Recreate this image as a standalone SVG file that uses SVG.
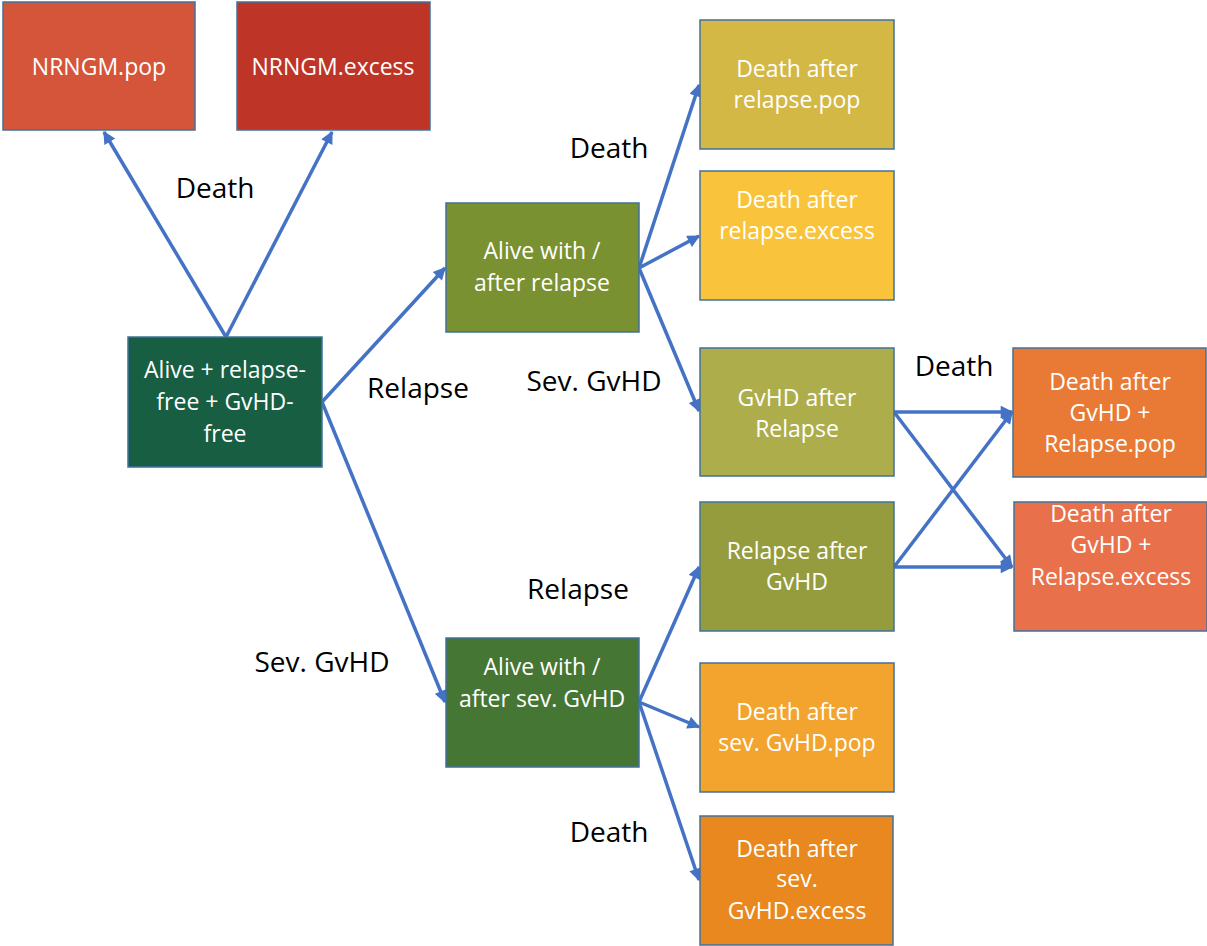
<svg xmlns="http://www.w3.org/2000/svg" width="1207" height="946" viewBox="0 0 1207 946">
<style>
.box{stroke:#41719C;stroke-width:1.5}
.bt{font-family:"Open Sans","Liberation Sans",sans-serif;font-size:23px;fill:#FFFFFF;text-anchor:middle}
.lb{font-family:"Open Sans","Liberation Sans",sans-serif;font-size:28px;fill:#000000;text-anchor:middle}
.cn line{stroke:#4472C4;stroke-width:3.5;marker-end:url(#ah)}
</style>
<defs>
<marker id="ah" viewBox="0 0 10 10" refX="9" refY="5" markerWidth="4.2" markerHeight="3.6" orient="auto" markerUnits="strokeWidth">
<path d="M0,0 L10,5 L0,10 z" fill="#4472C4"/>
</marker>
</defs>
<rect width="1207" height="946" fill="#FFFFFF"/>
<g id="connectors" class="cn">
<line x1="226" y1="337" x2="104" y2="132"/>
<line x1="226" y1="337" x2="332" y2="132"/>
<line x1="322" y1="402" x2="445" y2="268"/>
<line x1="322" y1="402" x2="445" y2="702"/>
<line x1="639" y1="268" x2="699" y2="85"/>
<line x1="639" y1="268" x2="699" y2="236"/>
<line x1="639" y1="268" x2="699" y2="411"/>
<line x1="639" y1="702" x2="699" y2="567"/>
<line x1="639" y1="702" x2="699" y2="727"/>
<line x1="639" y1="702" x2="699" y2="880"/>
<line x1="894" y1="412" x2="1012" y2="412"/>
<line x1="894" y1="412" x2="1012" y2="567"/>
<line x1="894" y1="567" x2="1012" y2="567"/>
<line x1="894" y1="567" x2="1012" y2="412"/>
</g>
<g id="labels">
<text class="lb" x="215" y="198">Death</text>
<text class="lb" x="418" y="398">Relapse</text>
<text class="lb" x="322" y="672">Sev. GvHD</text>
<text class="lb" x="609" y="158">Death</text>
<text class="lb" x="594" y="391">Sev. GvHD</text>
<text class="lb" x="954" y="376">Death</text>
<text class="lb" x="578" y="599">Relapse</text>
<text class="lb" x="609" y="842">Death</text>
</g>
<g id="n-nrngm-pop"><rect class="box" x="3" y="2" width="192" height="128" fill="#D4553A"/><text class="bt" x="99" y="75">NRNGM.pop</text></g>
<g id="n-nrngm-excess"><rect class="box" x="237" y="2" width="193" height="128" fill="#BE3427"/><text class="bt" x="333" y="75">NRNGM.excess</text></g>
<g id="n-alive-free"><rect class="box" x="128" y="337" width="194" height="130" fill="#175E42"/><text class="bt" x="225" y="378">Alive + relapse-</text><text class="bt" x="225" y="410">free + GvHD-</text><text class="bt" x="225" y="442">free</text></g>
<g id="n-alive-relapse"><rect class="box" x="446" y="203" width="193" height="129" fill="#7A9132"/><text class="bt" x="542" y="259">Alive with /</text><text class="bt" x="542" y="291">after relapse</text></g>
<g id="n-death-relapse-pop"><rect class="box" x="700" y="20" width="194" height="129" fill="#D4B845"/><text class="bt" x="797" y="77">Death after</text><text class="bt" x="797" y="108">relapse.pop</text></g>
<g id="n-death-relapse-excess"><rect class="box" x="700" y="171" width="194" height="129" fill="#F9C43C"/><text class="bt" x="797" y="208">Death after</text><text class="bt" x="797" y="239">relapse.excess</text></g>
<g id="n-gvhd-after-relapse"><rect class="box" x="700" y="348" width="194" height="128" fill="#ADAD4C"/><text class="bt" x="797" y="406">GvHD after</text><text class="bt" x="797" y="437">Relapse</text></g>
<g id="n-relapse-after-gvhd"><rect class="box" x="700" y="502" width="194" height="129" fill="#949C3E"/><text class="bt" x="797" y="559">Relapse after</text><text class="bt" x="797" y="590">GvHD</text></g>
<g id="n-death-gr-pop"><rect class="box" x="1013" y="348" width="193" height="129" fill="#E87A35"/><text class="bt" x="1110" y="390">Death after</text><text class="bt" x="1110" y="421">GvHD +</text><text class="bt" x="1110" y="452">Relapse.pop</text></g>
<g id="n-death-gr-excess"><rect class="box" x="1014" y="502" width="193" height="129" fill="#E8704A"/><text class="bt" x="1111" y="522">Death after</text><text class="bt" x="1111" y="553">GvHD +</text><text class="bt" x="1111" y="585">Relapse.excess</text></g>
<g id="n-alive-gvhd"><rect class="box" x="446" y="638" width="193" height="129" fill="#457634"/><text class="bt" x="542" y="675">Alive with /</text><text class="bt" x="542" y="707">after sev. GvHD</text></g>
<g id="n-death-gvhd-pop"><rect class="box" x="700" y="663" width="194" height="129" fill="#F2A42E"/><text class="bt" x="797" y="720">Death after</text><text class="bt" x="797" y="751">sev. GvHD.pop</text></g>
<g id="n-death-gvhd-excess"><rect class="box" x="700" y="816" width="193" height="129" fill="#E8881E"/><text class="bt" x="797" y="857">Death after</text><text class="bt" x="797" y="887">sev.</text><text class="bt" x="797" y="919">GvHD.excess</text></g>
</svg>
